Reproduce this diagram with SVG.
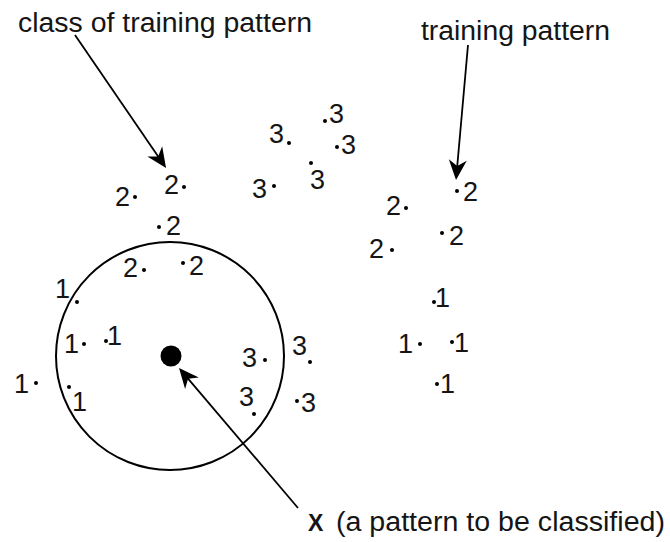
<svg xmlns="http://www.w3.org/2000/svg" width="670" height="542" viewBox="0 0 670 542">
<defs>
<style>
text { font-family: "Liberation Sans", Arial, sans-serif; fill: #151515; }
.d { font-size: 27px; }
.lbl { font-size: 27px; }
.dot { fill: #000; }
.ln { stroke: #000; stroke-width: 1.8; fill: none; }
</style>
<marker id="ah" markerUnits="userSpaceOnUse" markerWidth="22" markerHeight="20" viewBox="-11 -10 22 20" refX="0" refY="0" orient="auto">
<path d="M10,0 L-10,-9 L-4,0 L-10,9 Z" fill="#000"/>
</marker>
</defs>
<rect width="670" height="542" fill="#fff"/>

<g id="circle">
<circle cx="170" cy="356" r="114" fill="none" stroke="#000" stroke-width="2"/>
</g>
<g id="x-point">
<circle cx="171" cy="356" r="10.5" fill="#000"/>
</g>

<g id="connectors">
<path class="ln" d="M75,35 L160.4,159.7" marker-end="url(#ah)"/>
<path class="ln" d="M468,45 L456.9,170" marker-end="url(#ah)"/>
<path class="ln" d="M298,508 L185.5,375.6" marker-end="url(#ah)"/>
</g>

<g id="labels">
<text class="lbl" x="18" y="32" textLength="294" lengthAdjust="spacingAndGlyphs">class of training pattern</text>
<text class="lbl" x="421" y="40" textLength="189" lengthAdjust="spacingAndGlyphs">training pattern</text>
<text x="308" y="531" font-size="23" font-weight="bold">X</text>
<text class="lbl" x="336" y="531" textLength="329" lengthAdjust="spacingAndGlyphs">(a pattern to be classified)</text>
</g>

<g id="patterns">
<g id="p1"><text class="d" x="164" y="194">2</text><circle class="dot" cx="184" cy="187" r="2"/></g>
<g id="p2"><text class="d" x="115" y="206">2</text><circle class="dot" cx="135" cy="197" r="2"/></g>
<g id="p3"><text class="d" x="269" y="143">3</text><circle class="dot" cx="289" cy="143" r="2"/></g>
<g id="p4"><text class="d" x="329" y="123">3</text><circle class="dot" cx="325" cy="121" r="2"/></g>
<g id="p5"><text class="d" x="341" y="154">3</text><circle class="dot" cx="337" cy="147" r="2"/></g>
<g id="p6"><text class="d" x="310" y="189">3</text><circle class="dot" cx="311" cy="163" r="2"/></g>
<g id="p7"><text class="d" x="252" y="198">3</text><circle class="dot" cx="274" cy="186" r="2"/></g>
<g id="p8"><text class="d" x="166" y="235">2</text><circle class="dot" cx="159" cy="227" r="2"/></g>
<g id="p9"><text class="d" x="123" y="277">2</text><circle class="dot" cx="144" cy="270" r="2"/></g>
<g id="p10"><text class="d" x="189" y="275">2</text><circle class="dot" cx="183" cy="263" r="2"/></g>
<g id="p11"><text class="d" x="55" y="298">1</text><circle class="dot" cx="77" cy="302" r="2"/></g>
<g id="p12"><text class="d" x="64" y="353">1</text><circle class="dot" cx="84" cy="344" r="2"/></g>
<g id="p13"><text class="d" x="107" y="345">1</text><circle class="dot" cx="106" cy="341" r="2"/></g>
<g id="p14"><text class="d" x="14" y="393">1</text><circle class="dot" cx="36" cy="383" r="2"/></g>
<g id="p15"><text class="d" x="72" y="411">1</text><circle class="dot" cx="69" cy="387" r="2"/></g>
<g id="p16"><text class="d" x="242" y="367">3</text><circle class="dot" cx="265" cy="360" r="2"/></g>
<g id="p17"><text class="d" x="292" y="355">3</text><circle class="dot" cx="310" cy="362" r="2"/></g>
<g id="p18"><text class="d" x="239" y="406">3</text><circle class="dot" cx="254" cy="414" r="2"/></g>
<g id="p19"><text class="d" x="301" y="412">3</text><circle class="dot" cx="297" cy="401" r="2"/></g>
<g id="p20"><text class="d" x="463" y="201">2</text><circle class="dot" cx="457" cy="191" r="2"/></g>
<g id="p21"><text class="d" x="386" y="215">2</text><circle class="dot" cx="406" cy="208" r="2"/></g>
<g id="p22"><text class="d" x="449" y="245">2</text><circle class="dot" cx="442" cy="233" r="2"/></g>
<g id="p23"><text class="d" x="369" y="258">2</text><circle class="dot" cx="392" cy="250" r="2"/></g>
<g id="p24"><text class="d" x="435" y="307">1</text><circle class="dot" cx="434" cy="302" r="2"/></g>
<g id="p25"><text class="d" x="398" y="353">1</text><circle class="dot" cx="420" cy="344" r="2"/></g>
<g id="p26"><text class="d" x="454" y="352">1</text><circle class="dot" cx="452" cy="342" r="2"/></g>
<g id="p27"><text class="d" x="440" y="393">1</text><circle class="dot" cx="437" cy="384" r="2"/></g>
</g>
</svg>
